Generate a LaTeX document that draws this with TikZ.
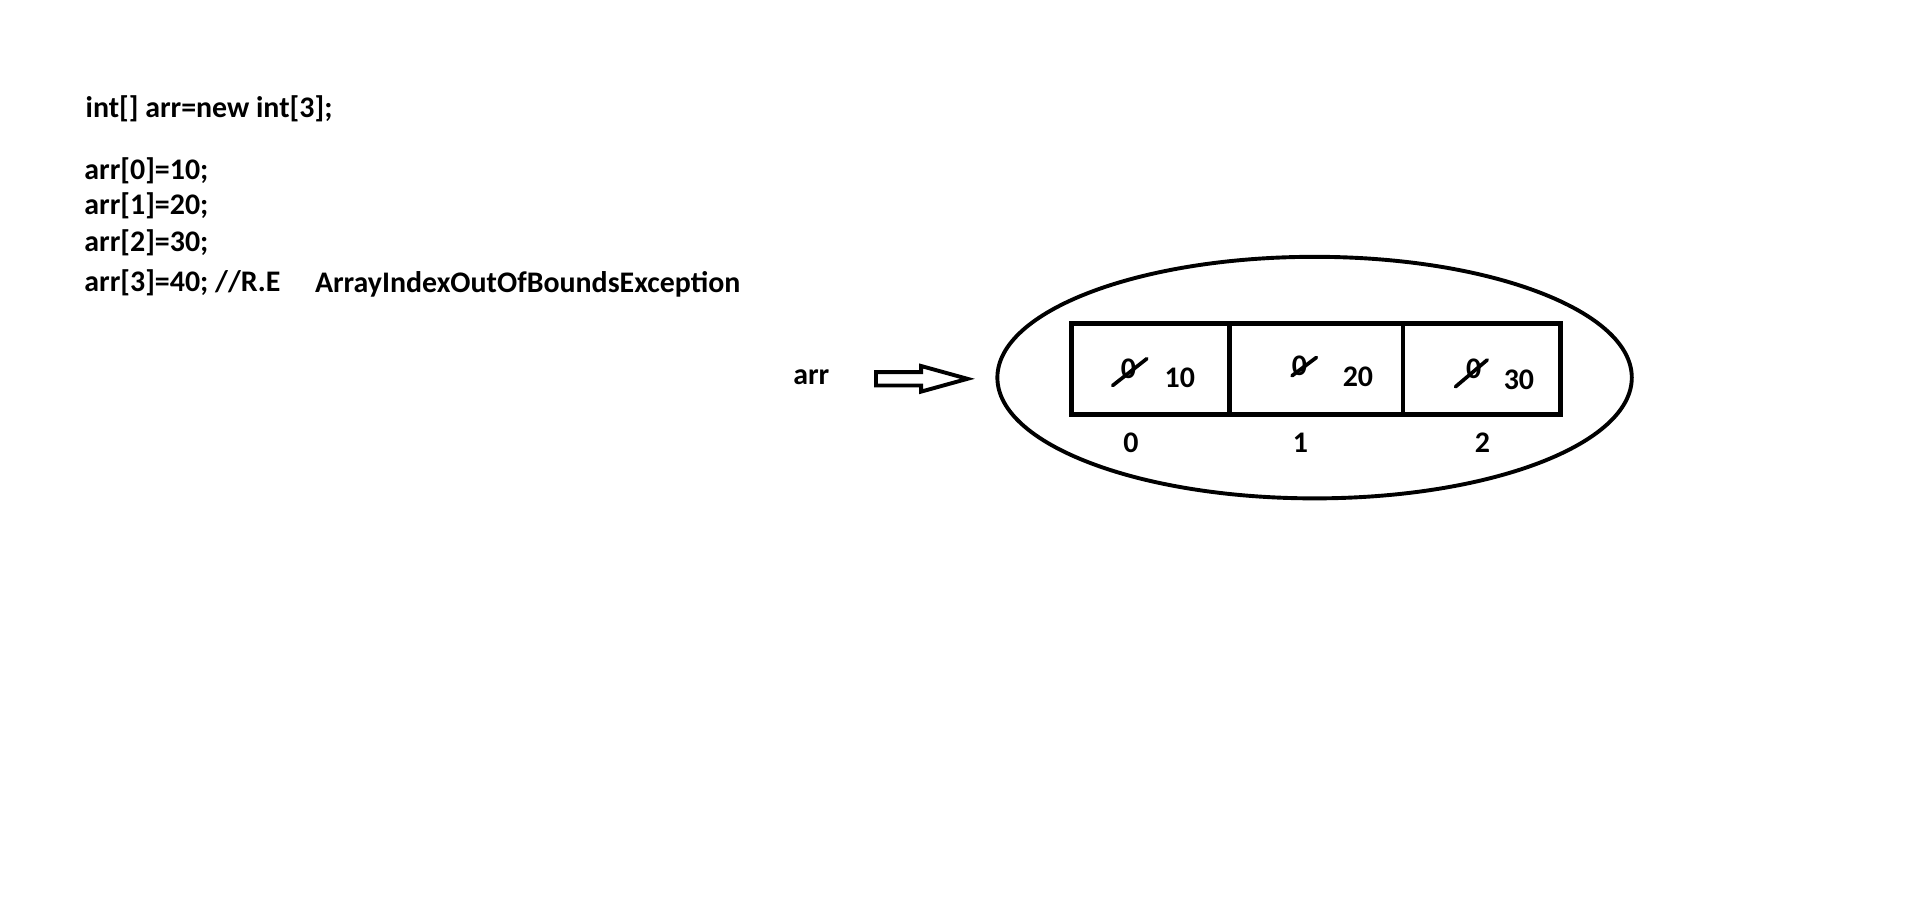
\documentclass[tikz,border=0pt]{standalone}
\usepackage{fontspec}
\setmainfont{Carlito}
\usetikzlibrary{shapes.geometric}
\tikzset{
  code/.style={anchor=base west, inner sep=0pt, font=\fontsize{24.5}{29}\selectfont\bfseries},
  num/.style={anchor=base, inner sep=0pt, font=\fontsize{24.5}{29}\selectfont\bfseries},
  cell/.style={draw, line width=4pt, rectangle, minimum height=75pt, inner sep=0pt},
  strike/.style={line width=3pt, line cap=round},
}
\begin{document}
\begin{tikzpicture}[x=1pt, y=-1pt]
\useasboundingbox (0,0) rectangle (1568,735);
% code lines
\node[code] (l0) at (70,96) {int[] arr=new int[3];};
\node[code] (l1) at (69,147) {arr[0]=10;};
\node[code] (l2) at (69,176) {arr[1]=20;};
\node[code] (l3) at (69,206) {arr[2]=30;};
\node[code] (l4) at (69,239) {arr[3]=40; //R.E};
\node[code] (ex) at (258,240) {ArrayIndexOutOfBoundsException};
% reference variable
\node[code] (arr) at (650,315) {arr};
% heap object
\node[draw, ellipse, line width=3.2pt, minimum width=520pt, minimum height=198pt, inner sep=0pt] (obj) at (1077.5,309.5) {};
\node[cell, minimum width=130pt] (c0) at (943,302.5) {};
\node[cell, minimum width=142pt] (c1) at (1079,302.5) {};
\node[cell, minimum width=129pt] (c2) at (1214.5,302.5) {};
% arrow
\coordinate (aS) at (718,310.5);
\coordinate (aT) at (793,310.5);
\draw[line width=3.2pt, line join=miter, fill=white] (aS) ++(0,-5.5) -- ++(37,0) -- ++(0,-5) -- (aT) -- ++(-38,10.5) -- ++(0,-5) -- ++(-37,0) -- cycle;
% old values (struck out)
\node[num] (z0) at (925,310) {0};
\node[num] (z1) at (1065,308) {0};
\node[num] (z2) at (1208,310) {0};
\draw[strike] (912,316) -- (940,294);
\draw[strike] (1059,308) -- (1079,293);
\draw[strike] (1193,317) -- (1219,295);
% new values
\node[num] (v0) at (967,318) {10};
\node[num] (v1) at (1113,317) {20};
\node[num] (v2) at (1245,319) {30};
% indices
\node[num] (i0) at (927,371) {0};
\node[num] (i1) at (1066,371) {1};
\node[num] (i2) at (1215,371) {2};
\end{tikzpicture}
\end{document}
